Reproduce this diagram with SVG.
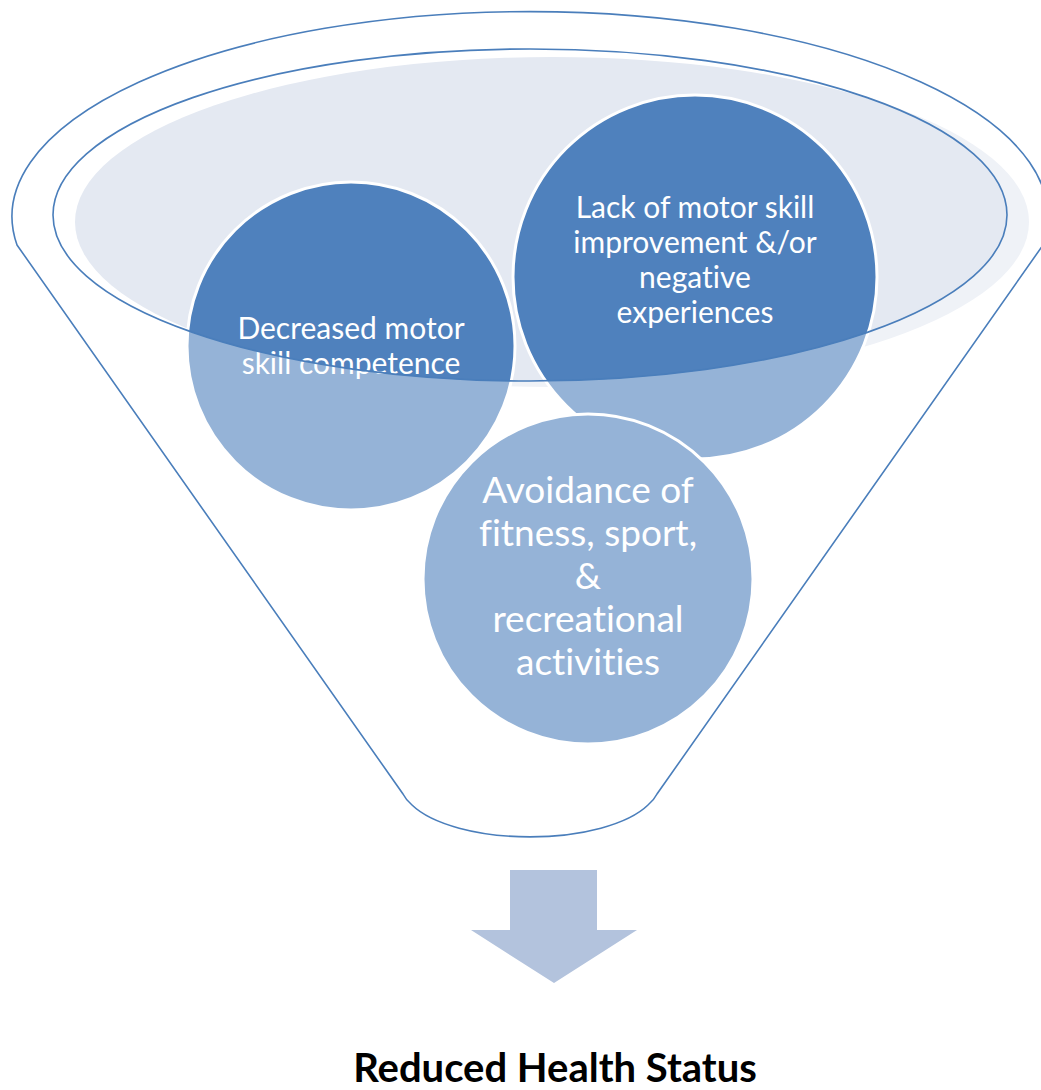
<svg xmlns="http://www.w3.org/2000/svg" width="1041" height="1090" viewBox="0 0 1041 1090">
  <style>
    .bubble { fill: #4F81BD; stroke: #FFFFFF; stroke-width: 3; }
    .label { fill: #FFFFFF; font-family: Lato, "Liberation Sans", sans-serif; text-anchor: middle; font-variant-ligatures: none; }
    .small { font-size: 30px; }
    .large { font-size: 37px; }
    .rim { fill: none; stroke: #4A7EBB; stroke-width: 1.6; }
    .title { fill: #000000; font-family: Lato, "Liberation Sans", sans-serif; font-weight: bold; font-size: 40px; text-anchor: middle; font-variant-ligatures: none; }
  </style>
  <defs>
    <!-- funnel silhouette: wide top ellipse, straight sides, rounded neck -->
    <path id="funnelShape" d="M 17 245 L 403 794 Q 406 800 412 805 A 128 52 0 0 0 648 805 Q 654 800 657 794 L 1043 245 A 518 205 0 1 0 17 245 Z"/>
  </defs>

  <rect width="1041" height="1090" fill="#FFFFFF"/>

  <!-- liquid surface inside the funnel mouth -->
  <ellipse cx="552" cy="222" rx="477" ry="165" fill="#E4E9F2"/>

  <g id="node-decreased-competence">
    <circle class="bubble" cx="351" cy="346" r="164"/>
    <text class="label small" x="351" y="339">Decreased motor</text>
    <text class="label small" x="351" y="374">skill competence</text>
  </g>

  <g id="node-lack-of-improvement">
    <circle class="bubble" cx="695" cy="277" r="182"/>
    <text class="label small" x="695" y="218">Lack of motor skill</text>
    <text class="label small" x="695" y="253">improvement &amp;/or</text>
    <text class="label small" x="695" y="288">negative</text>
    <text class="label small" x="695" y="323">experiences</text>
  </g>

  <g id="node-avoidance">
    <circle class="bubble" cx="588" cy="579" r="165"/>
    <text class="label large" x="588" y="503">Avoidance of</text>
    <text class="label large" x="588" y="546">fitness, sport,</text>
    <text class="label large" x="588" y="589">&amp;</text>
    <text class="label large" x="588" y="632">recreational</text>
    <text class="label large" x="588" y="675">activities</text>
  </g>

  <!-- translucent front wall of the funnel (everything outside the mouth) -->
  <path fill="#FFFFFF" fill-opacity="0.4" fill-rule="evenodd"
        d="M 17 245 L 403 794 Q 406 800 412 805 A 128 52 0 0 0 648 805 Q 654 800 657 794 L 1043 245 A 518 205 0 1 0 17 245 Z
           M 53 215 A 477 166 0 1 0 1007 215 A 477 166 0 1 0 53 215 Z"/>

  <g id="funnel-outline">
    <use href="#funnelShape" class="rim"/>
    <ellipse class="rim" cx="530" cy="215" rx="477" ry="166"/>
  </g>

  <g id="connectors">
    <polygon points="510,870 597,870 597,930 637,930 554,983 471,930 510,930" fill="#B3C3DD"/>
  </g>

  <g id="node-reduced-health">
    <text class="title" x="555" y="1082">Reduced Health Status</text>
  </g>
</svg>
